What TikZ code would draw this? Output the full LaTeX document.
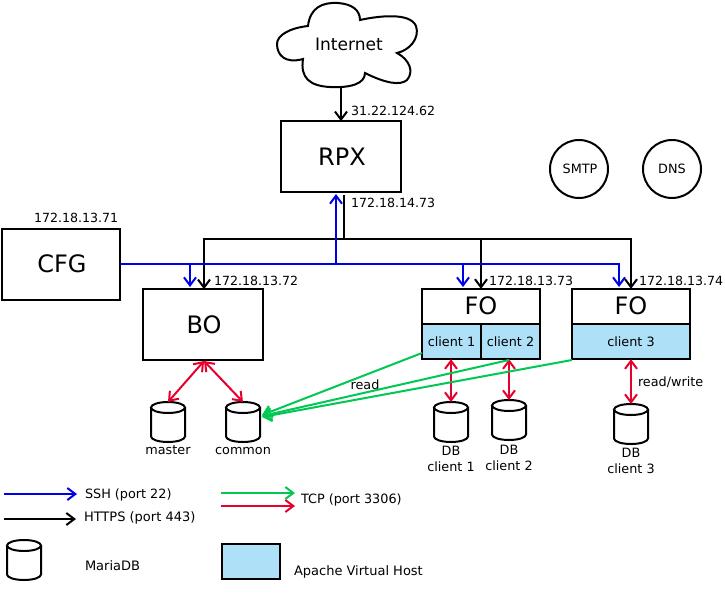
\documentclass[tikz,border=0pt]{standalone}
\usepackage{fontspec}
\setmainfont{DejaVu Sans}
\usetikzlibrary{arrows.meta}
\definecolor{vhost}{HTML}{AEE1F8}
\definecolor{sshblue}{HTML}{0000E6}
\definecolor{tcpgreen}{HTML}{00C853}
\definecolor{dbred}{HTML}{E8002D}
\tikzset{
  x=0.75pt,y=-0.75pt,
  every path/.style={line width=1.5pt},
  box/.style={draw,rectangle,inner sep=0pt,outer sep=0pt,font=\fontsize{18}{20}\selectfont},
  vhostbox/.style={box,fill=vhost,font=\fontsize{9.6}{11}\selectfont},
  lbl/.style={inner sep=0pt,outer sep=0pt,font=\fontsize{9.6}{11}\selectfont,align=center},
  lbw/.style={lbl,anchor=west},
  addr/.style={lbw,font=\fontsize{9.45}{11}\selectfont},
  legt/.style={lbw,font=\fontsize{9.75}{11}\selectfont},
  srv/.style={draw,circle,inner sep=0pt,outer sep=0pt,minimum size=43.5pt,font=\fontsize{9.6}{11}\selectfont},
  db/.style={rectangle,inner sep=0pt,outer sep=0pt,minimum width=25.5pt,minimum height=29pt},
  https/.style={draw=black,-{Straight Barb[length=6pt,width=9pt]}},
  ssh/.style={draw=sshblue,-{Straight Barb[length=6pt,width=9pt]}},
  tcp/.style={draw=tcpgreen,-{Straight Barb[length=6pt,width=9pt]}},
  rw/.style={draw=dbred,{Straight Barb[length=6pt,width=9pt]}-{Straight Barb[length=6pt,width=9pt]}},
  legred/.style={draw=dbred,-{Straight Barb[length=6pt,width=9pt]}},
}
\newcommand{\dbcyl}[1]{%
  \begin{scope}[shift={(#1.center)}]
    \draw (0,-14.5) ellipse[x radius=17,y radius=5.5];
    \draw (-17,-14.5) -- (-17,14.5) arc[start angle=180,end angle=0,x radius=17,y radius=5.5] -- (17,-14.5);
  \end{scope}}
\begin{document}
\begin{tikzpicture}
\useasboundingbox (0,0) rectangle (725,597);
% cloud
\draw (308,26) .. controls (310,8) and (322,2) .. (338,3)
  .. controls (352,4) and (360,10) .. (360,20)
  .. controls (378,16) and (410,12) .. (416,26)
  .. controls (420,38) and (410,50) .. (397,53)
  .. controls (410,60) and (414,72) .. (407,80)
  .. controls (400,86) and (385,83) .. (365,73)
  .. controls (365,84) and (350,88) .. (330,87)
  .. controls (310,86) and (300,78) .. (303,59)
  .. controls (285,64) and (277,55) .. (277,44)
  .. controls (277,35) and (290,28) .. (308,26) -- cycle;
\node[inner sep=0pt,font=\fontsize{12.8}{15}\selectfont] (internet) at (349,44) {Internet};
\coordinate (cloudbase) at (341,87);
% servers
\node[box,minimum width=90pt,minimum height=53pt] (rpx) at (341,156.5) {\hspace{1.5pt}RPX};
\node[box,minimum width=88.5pt,minimum height=53pt] (cfg) at (61,264.5) {\hspace{1.5pt}\raisebox{1pt}{CFG}};
\node[box,minimum width=90pt,minimum height=53pt] (bo) at (203,324.5) {\hspace{1.5pt}BO};
\node[box,minimum width=88.5pt,minimum height=26.5pt] (fo1) at (481,306.5) {\raisebox{1pt}{FO}};
\node[vhostbox,minimum width=44.25pt,minimum height=26.5pt] (c1) at (451.5,341.5) {client 1};
\node[vhostbox,minimum width=44.25pt,minimum height=26.5pt] (c2) at (510.5,341.5) {client 2};
\node[box,minimum width=88.5pt,minimum height=26.5pt] (fo2) at (631,306.5) {\raisebox{1pt}{FO}};
\node[vhostbox,minimum width=88.5pt,minimum height=26.5pt] (c3) at (631,341.5) {client 3};
\node[srv] (smtp) at (579,169) {\hspace{1.5pt}SMTP};
\node[srv] (dns) at (672,169) {DNS};
% databases
\node[db] (master) at (168,422) {}; \dbcyl{master}
\node[db] (common) at (243,422) {}; \dbcyl{common}
\node[db] (db1) at (451,422) {}; \dbcyl{db1}
\node[db] (db2) at (509,420) {}; \dbcyl{db2}
\node[db] (db3) at (631,424) {}; \dbcyl{db3}
\node[db] (legdb) at (24,560) {}; \dbcyl{legdb}
% db labels
\node[lbl] (lmaster) at (168,450.5) {master};
\node[lbl] (lcommon) at (243,450.5) {common};
\node[lbl] (ldb1) at (451,458.5) {DB\\[1pt]client 1};
\node[lbl] (ldb2) at (509,457.5) {DB\\[1pt]client 2};
\node[lbl] (ldb3) at (631,460.5) {DB\\[1pt]client 3};
\node[lbl] (lread) at (365,385) {read};
\node[lbw] (lrw) at (638,382) {read/write};
% addresses
\node[addr] (a1) at (351,110.5) {31.22.124.62};
\node[addr] (a2) at (351,202.5) {172.18.14.73};
\node[addr] (a3) at (34,217.5) {172.18.13.71};
\node[addr] (a4) at (214,280.5) {172.18.13.72};
\node[addr] (a5) at (489,280.5) {172.18.13.73};
\node[addr] (a6) at (639,280.5) {172.18.13.74};
% junctions
\coordinate (upt) at (344,195);
\coordinate (bus) at (344,239);
\coordinate (busl) at (204,239);
\coordinate (busm) at (481,239);
\coordinate (busr) at (631,239);
\coordinate (sshr) at (619,264);
\coordinate (sshb) at (190,264);
\coordinate (sshu) at (336,264);
\coordinate (sshf) at (463,264);
% https
\draw[https] (cloudbase) -- (cloudbase |- rpx.north);
\draw (upt) -- (bus);
\draw[line cap=rect] (busl) -- (busr);
\draw[https] (busl) -- (busl |- bo.north);
\draw[https] (busm) -- (busm |- fo1.north);
\draw[https] (busr) -- (busr |- fo2.north);
% ssh
\draw[draw=sshblue,line join=miter] (cfg.east |- sshr) -- (sshr);
\draw[ssh] (sshb) -- ++(0,23);
\draw[ssh] (sshu) -- ++(0,-70);
\draw[ssh] (sshf) -- ++(0,23);
\draw[ssh,shorten <=-0.75pt] (sshr) -- ++(0,23);
% red
\coordinate (bob) at (204,361);
\draw[rw] (bob) -- (master.north |- 169,402);
\draw[rw] (bob) -- (common.north |- 243,402);
\draw[rw] (db1.north |- c1.south) -- (451,402);
\draw[rw] (db2.north |- c2.south) -- (509,400);
\draw[rw] (db3.north |- c3.south) -- (631,404);
% green
\coordinate (cin1) at (262,415);
\coordinate (cin2) at (262,416);
\coordinate (cin3) at (262,417);
\draw[tcp] (422,353) -- (cin1);
\draw[tcp] (509,360) -- (cin2);
\draw[tcp] (572,360) -- (cin3);
% legend
\coordinate (ls1) at (4,494); \coordinate (le1) at (77,494);
\coordinate (ls2) at (4,519); \coordinate (le2) at (76,519);
\coordinate (ls3) at (221,493); \coordinate (le3) at (295,493);
\coordinate (ls4) at (221,506); \coordinate (le4) at (295,506);
\draw[ssh] (ls1) -- (le1);
\draw[https] (ls2) -- (le2);
\draw[tcp] (ls3) -- (le3);
\draw[legred] (ls4) -- (le4);
\node[lbw] (t1) at (85,494.5) {SSH (port 22)};
\node[legt] (t2) at (84,518) {HTTPS (port 443)};
\node[lbw] (t3) at (301,500) {TCP (port 3306)};
\node[legt] (t4) at (85,566) {MariaDB};
\node[box,fill=vhost,minimum width=43.5pt,minimum height=26pt] (legv) at (251,561.5) {};
\node[legt] (t5) at (294,572) {Apache Virtual Host};
\end{tikzpicture}
\end{document}
